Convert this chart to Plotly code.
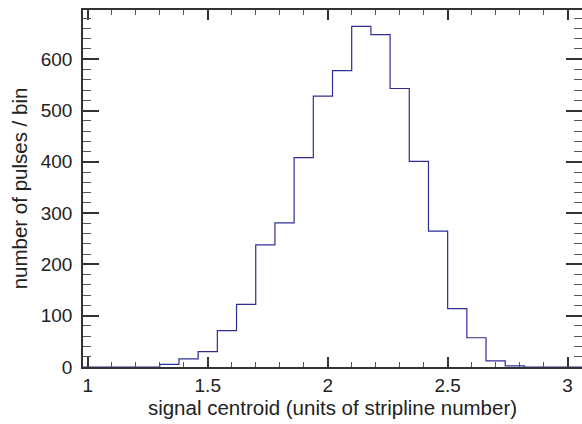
import plotly.graph_objects as go

# bin left edges (width 0.08) and counts per bin
bin_start = 0.98
bin_width = 0.08
counts = [0, 0, 0, 0, 5, 16, 30, 71, 122, 238, 281, 408, 528, 578, 664, 648,
          543, 401, 265, 114, 57, 12, 2, 0, 0, 0]
x_ticks = [1, 1.5, 2, 2.5, 3]
x_tick_labels = ["1", "1.5", "2", "2.5", "3"]
y_ticks = [0, 100, 200, 300, 400, 500, 600]

edges = [round(bin_start + i * bin_width, 4) for i in range(len(counts) + 1)]
step_y = counts + [counts[-1]]

FONT = "Liberation Sans, Arial, Helvetica, sans-serif"
AX = "#333333"

fig = go.Figure()
fig.add_trace(go.Scatter(
    x=edges, y=step_y, mode="lines", line_shape="hv",
    line=dict(color="#2e2e96", width=1.2), hoverinfo="skip", showlegend=False,
))

fig.update_layout(
    width=582, height=424,
    margin=dict(l=83, r=0, t=10, b=57),
    paper_bgcolor="white", plot_bgcolor="white",
    font=dict(family=FONT, size=19, color="#222222"),
    xaxis=dict(
        range=[edges[0], edges[-1]],
        tickvals=x_ticks, ticktext=x_tick_labels,
        ticks="inside", ticklen=10, tickwidth=1.5, tickcolor=AX,
        minor=dict(dtick=0.1, ticks="inside", ticklen=5, tickwidth=1, tickcolor="#555555"),
        showline=True, linecolor=AX, linewidth=1.5, mirror="ticks",
        showgrid=False, zeroline=False, automargin=False,
        title=dict(text="signal centroid (units of stripline number)", standoff=2,
                   font=dict(size=20.5)),
        tickfont=dict(size=19),
    ),
    yaxis=dict(
        range=[0, 696],
        tickvals=y_ticks,
        ticks="inside", ticklen=16, tickwidth=1.5, tickcolor=AX,
        minor=dict(dtick=20, ticks="inside", ticklen=8, tickwidth=1, tickcolor="#555555"),
        showline=True, linecolor=AX, linewidth=1.5, mirror="ticks",
        showgrid=False, zeroline=False, automargin=False,
        ticklabelstandoff=5,
        title=dict(text="number of pulses / bin", standoff=8, font=dict(size=20.5)),
        tickfont=dict(size=19),
    ),
)

fig.write_html("out.html", config={"displayModeBar": False},
               post_script="document.body.style.margin='0px';")
